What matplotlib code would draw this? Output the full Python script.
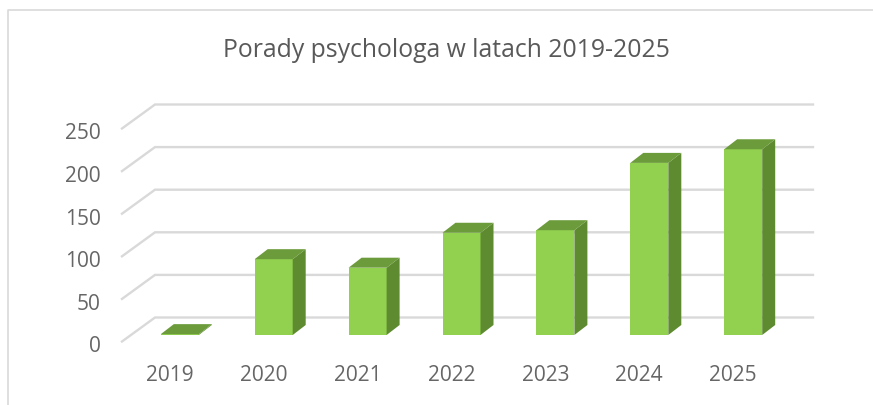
import matplotlib
matplotlib.use('Agg')
import matplotlib.pyplot as plt
from matplotlib.patches import Polygon

years = ['2019', '2020', '2021', '2022', '2023', '2024', '2025']
values = [1, 89, 79, 120, 123, 202, 218]
y_ticks = [0, 50, 100, 150, 200, 250]
title = 'Porady psychologa w latach 2019-2025'

plt.rcParams['font.family'] = ['Open Sans', 'DejaVu Sans']

# pixel scales
px_x = 93.9
px_y = 0.852
x0 = 179.8

def dx(p):
    return p / px_x

def dy(p):
    return p / px_y

fig = plt.figure(figsize=(8.73, 4.06), dpi=100)
ax = fig.add_axes([0, 0, 1, 1])
ax.set_xlim(-x0 / px_x, (873 - x0) / px_x)
ax.set_ylim(-63.5 / px_y, 342.5 / px_y)
ax.axis('off')

# grid, front end then back wall
x_front = dx(122 - x0)
x_back = dx(155 - x0)
x_end = dx(813 - x0)
for t in y_ticks:
    ax.plot([x_front, x_back, x_end], [t, t + dy(24), t + dy(24)],
            color='#d9d9d9', lw=1.7, solid_joinstyle='miter', zorder=1)
    ax.text(dx(101 - x0), t - dy(4.5), str(t), ha='right', va='center',
            fontsize=15, color='#666666')

# bars
bar_w = dx(38)
base = dy(6.5)
depth_x = dx(13)
depth_y = dy(10)
for i, v in enumerate(values):
    l = i - bar_w / 2
    r = i + bar_w / 2
    top = base + v
    ax.bar(i, v, width=bar_w, bottom=base, color='#92d050', zorder=3)
    ax.add_patch(Polygon([(r, base), (r + depth_x, base + depth_y),
                          (r + depth_x, top + depth_y), (r, top)],
                         facecolor='#5e8a30', edgecolor='none', zorder=3))
    ax.add_patch(Polygon([(l, top), (l + depth_x, top + depth_y),
                          (r + depth_x, top + depth_y), (r, top)],
                         facecolor='#6b9b3a', edgecolor='none', zorder=3))
    ax.text(i - dx(10), dy(342 - 375), years[i], ha='center', va='center',
            fontsize=15, color='#666666')

ax.text(dx(446 - x0), dy(342 - 50), title, ha='center', va='center',
        fontsize=17.8, color='#595959')

# chart frame, left and top only
frame_x = dx(8 - x0)
ax.plot([frame_x, frame_x, dx(873 - x0)], [dy(342 - 406), dy(342 - 10), dy(342 - 10)],
        color='#d9d9d9', lw=1.2, zorder=1)

fig.savefig('out.png', dpi=100)
